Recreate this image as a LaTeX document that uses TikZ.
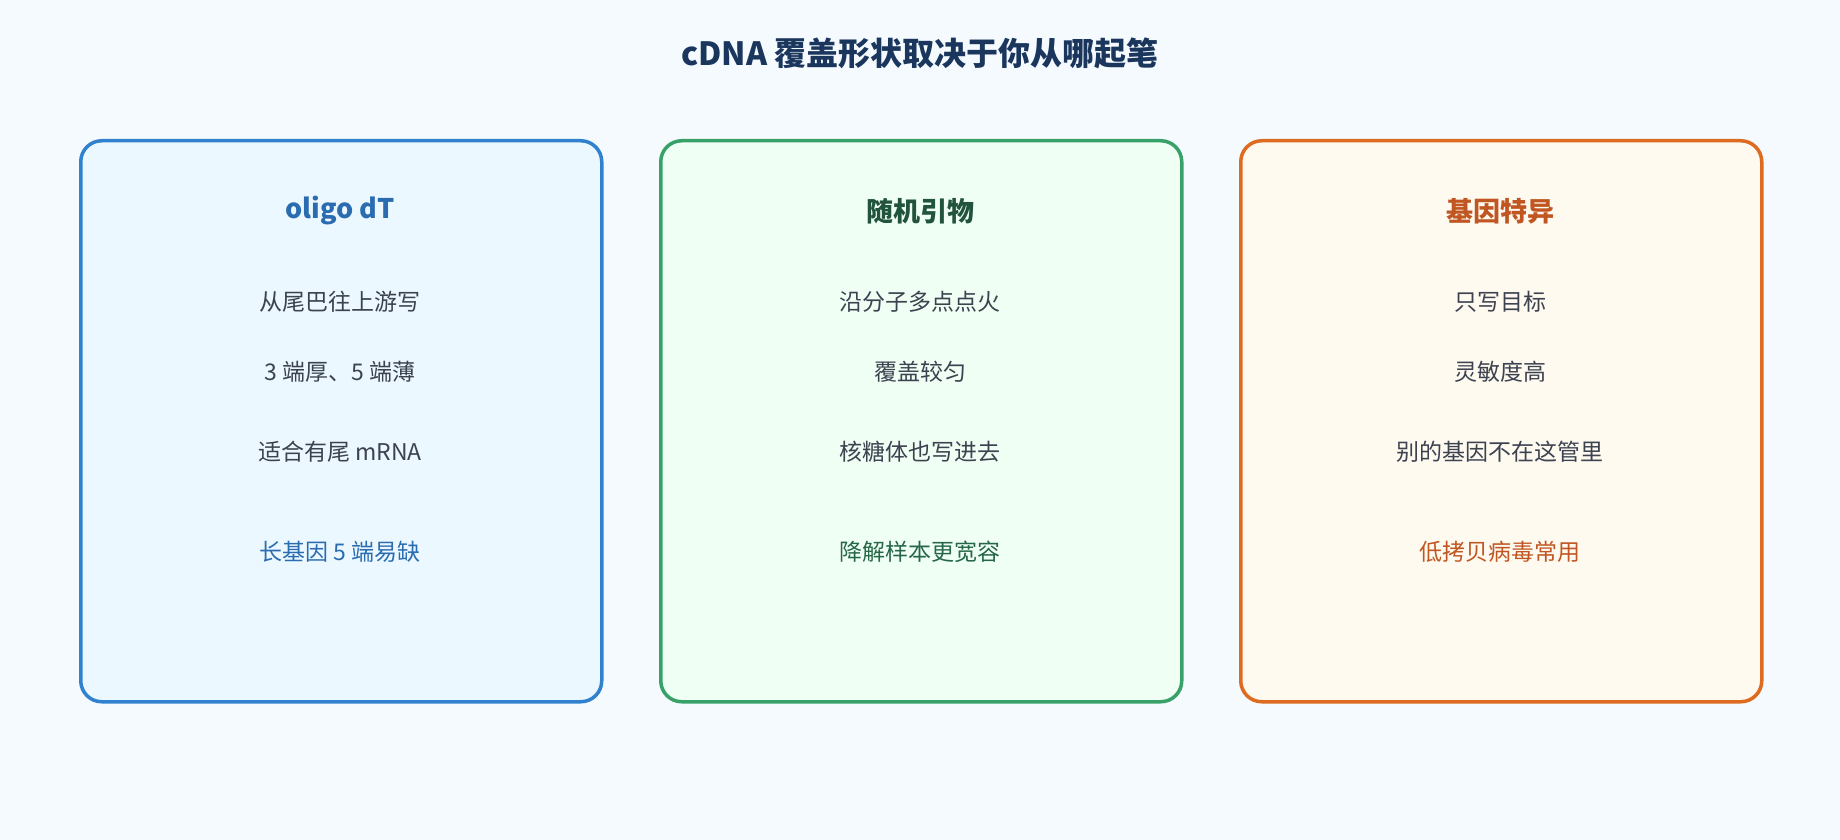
\documentclass[tikz,border=0pt]{standalone}
\usepackage{fontspec}
\setmainfont{Noto Sans CJK SC}
\begin{document}
\begin{tikzpicture}[x=1pt,y=-1pt,
  box/.style={draw=#1,line width=3.5pt,rounded corners=21pt,minimum width=521pt,minimum height=561pt,anchor=north west,inner sep=0pt},
  head/.style={font=\fontsize{27}{31}\selectfont\bfseries,text=#1},
  body/.style={font=\fontsize{23}{27}\selectfont,text=#1}]
\definecolor{bg}{HTML}{F5FAFE}
\definecolor{bA}{HTML}{3182CE}\definecolor{fA}{HTML}{EBF8FF}\definecolor{hA}{HTML}{2B6CB0}
\definecolor{bB}{HTML}{38A169}\definecolor{fB}{HTML}{F0FFF4}\definecolor{hB}{HTML}{22543D}\definecolor{lB}{HTML}{276749}
\definecolor{bC}{HTML}{DD6B20}\definecolor{fC}{HTML}{FFFAF0}\definecolor{hC}{HTML}{C05621}
\definecolor{tx}{HTML}{3C4250}\definecolor{ti}{HTML}{1A365D}
\fill[bg] (0,0) rectangle (1840,840);
\useasboundingbox (0,0) rectangle (1840,840);
\node[font=\fontsize{32}{36}\selectfont\bfseries,text=ti] (title) at (920,53) {cDNA 覆盖形状取决于你从哪起笔};
\node[box=bA,fill=fA] (b1) at (79,139) {};
\node[box=bB,fill=fB] (b2) at (659,139) {};
\node[box=bC,fill=fC] (b3) at (1239,139) {};
\node[head=hA] (h1) at (340,211) {oligo dT};
\node[body=tx] (a1) at (340,302) {从尾巴往上游写};
\node[body=tx] (a2) at (340,372) {3 端厚、5 端薄};
\node[body=tx] (a3) at (340,452) {适合有尾 mRNA};
\node[body=hA] (a4) at (340,552) {长基因 5 端易缺};
\node[head=hB] (h2) at (920,211) {随机引物};
\node[body=tx] (c1) at (920,302) {沿分子多点点火};
\node[body=tx] (c2) at (920,372) {覆盖较匀};
\node[body=tx] (c3) at (920,452) {核糖体也写进去};
\node[body=lB] (c4) at (920,552) {降解样本更宽容};
\node[head=hC] (h3) at (1500,211) {基因特异};
\node[body=tx] (d1) at (1500,302) {只写目标};
\node[body=tx] (d2) at (1500,372) {灵敏度高};
\node[body=tx] (d3) at (1500,452) {别的基因不在这管里};
\node[body=hC] (d4) at (1500,552) {低拷贝病毒常用};
\end{tikzpicture}
\end{document}
